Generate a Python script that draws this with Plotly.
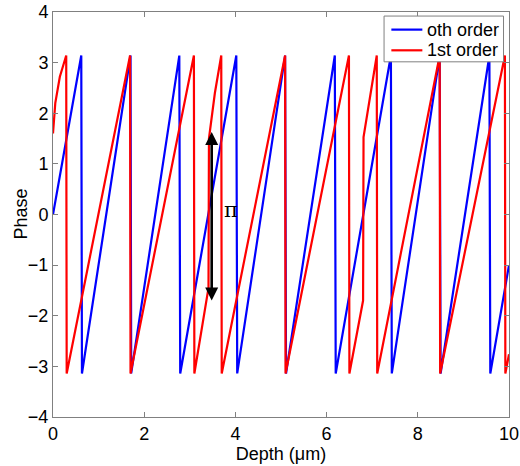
import plotly.graph_objects as go

PI = 3.14

# 0th order phase (blue): piecewise points (x in um, phase)
x_order0 = [0.0, 0.62, 0.635, 1.70, 1.715, 2.77, 2.79, 4.02, 4.04, 5.09, 5.11,
            6.18, 6.20, 7.41, 7.43, 8.48, 8.50, 9.57, 9.59, 10.0]
y_order0 = [0.0, PI, -PI, PI, -PI, PI, -PI, PI, -PI, PI, -PI,
            PI, -PI, PI, -PI, PI, -PI, PI, -PI, -1.0]

# 1st order phase (red)
x_order1 = [0.0, 0.05, 0.15, 0.29, 0.30, 1.69, 1.70, 3.09, 3.10, 3.36, 3.41, 3.42, 3.55, 3.69, 3.70,
            5.09, 5.10, 6.49, 6.50, 6.80, 6.81, 7.10, 7.11, 8.48, 8.49, 9.91, 9.92, 10.0]
y_order1 = [1.6, 2.2, 2.72, PI, -PI, PI, -PI, PI, -PI, -1.75, -1.45, 1.5, 2.4, PI, -PI,
            PI, -PI, PI, -PI, -1.70, 1.53, PI, -PI, PI, -PI, PI, -PI, -2.76]

series_names = ["oth order", "1st order"]
series_colors = ["#0000FF", "#FF0000"]

x_ticks = [0, 2, 4, 6, 8, 10]
y_ticks = [-4, -3, -2, -1, 0, 1, 2, 3, 4]

# pi-jump marker
arrow_x = 3.48
arrow_y = [1.66, -1.70]
pi_label_pos = [3.90, 0.08]

FONT = "Liberation Sans, Arial, Helvetica, sans-serif"
AXIS_COLOR = "#808080"
FS = 18

fig = go.Figure()
for xs, ys, name, col in [(x_order0, y_order0, series_names[0], series_colors[0]),
                          (x_order1, y_order1, series_names[1], series_colors[1])]:
    fig.add_trace(go.Scatter(x=xs, y=ys, mode="lines", name=name, showlegend=False,
                             line=dict(color=col, width=2.2)))

fig.add_annotation(x=arrow_x, y=arrow_y[1], ax=arrow_x, ay=arrow_y[0],
                   xref="x", yref="y", axref="x", ayref="y",
                   showarrow=True, arrowhead=2, startarrowhead=2,
                   arrowside="end+start", arrowsize=1.0, startarrowsize=1.0,
                   arrowwidth=2.6, arrowcolor="black", text="")
fig.add_annotation(x=pi_label_pos[0], y=pi_label_pos[1], xref="x", yref="y",
                   text="π", showarrow=False,
                   font=dict(family="DejaVu Serif, serif", size=21, color="black"))

# Legend box (manual, MATLAB-style)
lg_box = dict(x0=0.726, x1=0.988, y0=0.877, y1=0.990)
lg_rows = [0.9565, 0.9054]
lg_line = [0.742, 0.810]
lg_text_x = 0.816
fig.add_shape(type="rect", xref="paper", yref="paper", **lg_box,
              line=dict(color=AXIS_COLOR, width=1), fillcolor="white", layer="above")
for name, col, yr in zip(series_names, series_colors, lg_rows):
    fig.add_shape(type="line", xref="paper", yref="paper", x0=lg_line[0], x1=lg_line[1],
                  y0=yr, y1=yr, line=dict(color=col, width=2.2), layer="above")
    fig.add_annotation(x=lg_text_x, y=yr, xref="paper", yref="paper", text=name,
                       showarrow=False, xanchor="left", yanchor="middle",
                       font=dict(family=FONT, size=FS, color="black"))

# Y axis title (placed as annotation for exact position)
fig.add_annotation(x=0, y=0.5, xref="paper", yref="paper", text="Phase",
                   textangle=-90, showarrow=False, xanchor="center", yanchor="middle",
                   xshift=-33, font=dict(family=FONT, size=FS, color="black"))

axis_common = dict(showline=True, linecolor=AXIS_COLOR, linewidth=1, mirror="ticks",
                   ticks="inside", ticklen=5, tickcolor=AXIS_COLOR, showgrid=False,
                   zeroline=False, automargin=False,
                   tickfont=dict(family=FONT, size=FS, color="black"))

fig.update_layout(
    width=520, height=466,
    margin=dict(l=53, r=11, t=12, b=49, autoexpand=False),
    paper_bgcolor="white", plot_bgcolor="white",
    font=dict(family=FONT, size=FS, color="black"),
    xaxis=dict(range=[0, 10], tickvals=x_ticks,
               title=dict(text="Depth (μm)", standoff=2, font=dict(family=FONT, size=FS)),
               **axis_common),
    yaxis=dict(range=[-4, 4], tickvals=y_ticks, **axis_common),
    showlegend=False,
)

fig.write_html("out.html", config={"displayModeBar": False},
               post_script="document.body.style.margin='0';document.body.style.overflow='hidden';")
